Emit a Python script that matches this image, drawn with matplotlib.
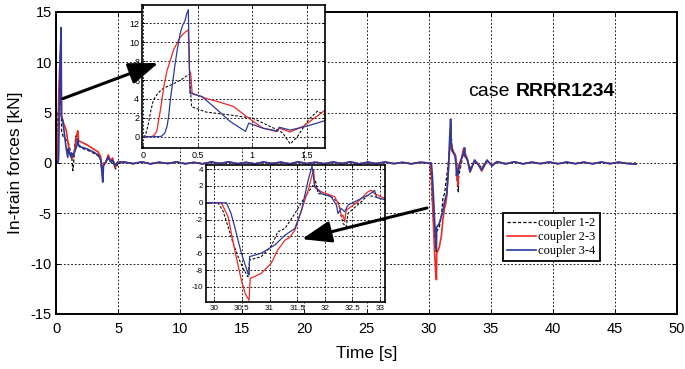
import matplotlib
matplotlib.use("Agg")
import matplotlib.pyplot as plt
from matplotlib.patches import ConnectionPatch

plt.rcParams['font.family'] = ['Liberation Sans', 'DejaVu Sans']
plt.rcParams['axes.unicode_minus'] = False

# ---------------- data ----------------
labels = ["coupler 1-2", "coupler 2-3", "coupler 3-4"]

# shared time stamps of the quiet stretches
flat_t_a = [5.5, 6.2, 6.9, 7.6, 8.3, 9.0, 9.7, 10.4, 11.1, 11.8, 12.5, 13.2, 13.9, 14.6,
            15.3, 16.0, 16.7, 17.4, 18.1, 18.8, 19.5, 20.2, 20.9, 21.6, 22.3, 23.0, 23.7,
            24.4, 25.1, 25.8, 26.5, 27.2, 27.9, 28.6, 29.3, 30.0]
flat_t_b = [35.5, 36.2, 36.9, 37.6, 38.3, 39.0, 39.7, 40.4, 41.1, 41.8, 42.5, 43.2, 43.9,
            44.6, 45.3, 46.0, 46.7]

# coupler 1-2 (black dashed)
t12_start = [0.0, 0.018, 0.03, 0.049, 0.07, 0.095, 0.13, 0.17, 0.22, 0.278, 0.37, 0.425,
             0.445, 0.58, 0.8, 1.01, 1.2, 1.28, 1.35, 1.41, 1.52, 1.6, 1.67, 1.75, 2.0,
             2.5, 3.0, 3.4, 3.6, 3.7, 3.76, 3.82, 4.0, 4.2, 4.45, 4.6, 4.8, 5.0]
f12_start = [0.0, 0.1, 0.5, 1.4, 2.7, 3.9, 4.5, 5.0, 5.3, 5.58, 6.18, 6.64,
             3.17, 2.6, 2.3, 1.94, 0.9, 0.41, -0.76, -0.1, 1.82, 2.7, 2.3, 1.8, 1.5,
             1.3, 1.0, 0.7, 0.3, -0.8, -1.5, -0.2, 0.1, 0.5, 0.0, 0.3, -0.6, 0.0]
f12_flat_a = [0.05, -0.03, 0.06, -0.05, 0.04, -0.02, 0.06, -0.05, 0.03, -0.04, 0.05, -0.03,
              0.06, -0.04, 0.03, -0.05, 0.05, -0.03, 0.04, -0.05, 0.06, -0.03, 0.04, -0.04,
              0.05, -0.03, 0.06, -0.05, 0.04, -0.03, 0.05, -0.04, 0.03, -0.05, 0.04, 0.0]
t12_event = [30.07, 30.16, 30.25, 30.34, 30.43, 30.52, 30.61, 30.64, 30.85, 31.03, 31.15,
             31.28, 31.46, 31.64, 31.79, 31.83, 31.88, 32.06, 32.24, 32.33, 32.39, 32.42,
             32.66, 32.78, 32.9, 33.12, 33.33, 33.7, 34.0, 34.27, 34.7, 35.1]
f12_event = [0.0, -1.0, -2.86, -4.8, -6.4, -7.8, -8.8, -6.8, -6.4, -5.2, -3.45,
             -3.05, -1.27, 0.72, 2.1, 2.7, 1.1, 0.9, 0.12, -2.46, -2.86, -1.27,
             0.12, 0.9, 0.72, 0.3, -0.6, 0.2, -0.1, -0.5, 0.2, -0.2]
f12_flat_b = [0.1, -0.05, 0.08, -0.06, 0.05, -0.04, 0.07, -0.05, 0.06, -0.04, 0.05, -0.05,
              0.06, -0.04, 0.05, -0.03, 0.0]

# coupler 2-3 (red)
t23_start = [0.0, 0.079, 0.1, 0.125, 0.16, 0.19, 0.22, 0.25, 0.28, 0.31, 0.34, 0.37,
             0.39, 0.415, 0.425, 0.437, 0.45, 0.58, 0.69, 0.83, 0.95, 1.1, 1.23, 1.25,
             1.35, 1.47, 1.67, 1.75, 1.82, 2.0, 2.5, 3.0, 3.4, 3.6, 3.7, 3.76, 3.82, 4.0,
             4.2, 4.4, 4.55, 4.75, 4.95]
f23_start = [0.0, 0.0, 0.15, 0.55, 2.9, 5.3, 7.0, 8.1, 9.2, 9.87, 10.5, 10.9,
             11.1, 11.3, 7.06, 6.7, 4.6, 4.05, 3.7, 3.2, 2.12, 0.9, 0.54, 0.9,
             0.5, 1.1, 2.8, 3.2, 2.2, 2.1, 1.8, 1.4, 1.1, 0.6, -0.8, -1.2, 0.0, 0.0,
             0.8, 0.2, 0.5, -0.5, 0.1]
f23_flat_a = [0.08, -0.06, 0.1, -0.08, 0.06, -0.05, 0.1, -0.07, 0.05, -0.08, 0.09, -0.05,
              0.1, -0.06, 0.05, -0.08, 0.09, -0.05, 0.07, -0.08, 0.1, -0.05, 0.07, -0.07,
              0.09, -0.05, 0.1, -0.08, 0.07, -0.05, 0.09, -0.06, 0.05, -0.08, 0.06, 0.0]
t23_event = [30.13, 30.25, 30.37, 30.49, 30.56, 30.63, 30.65, 30.85, 31.03, 31.15, 31.28,
             31.37, 31.46, 31.58, 31.7, 31.77, 31.8, 31.82, 31.94, 32.18, 32.27, 32.3,
             32.33, 32.36, 32.39, 32.6, 32.78, 32.84, 32.9, 33.12, 33.33, 33.7, 34.0,
             34.27, 34.7, 35.1]
f23_event = [0.0, -1.67, -5.6, -9.2, -10.8, -11.6, -9.0, -8.4, -7.2, -5.6, -4.45,
             -4.1, -3.25, -0.87, 1.5, 3.3, 3.9, 1.9, 1.3, 0.72, -0.47, -1.67,
             -1.47, -2.26, -0.87, 0.12, 1.3, 1.5, 1.1, 0.4, -0.9, 0.2, -0.1,
             -0.8, 0.2, -0.2]
f23_flat_b = [0.12, -0.08, 0.1, -0.08, 0.07, -0.06, 0.09, -0.07, 0.08, -0.06, 0.07, -0.07,
              0.08, -0.06, 0.07, -0.05, -0.1]

# coupler 3-4 (blue)
t34_start = [0.0, 0.14, 0.17, 0.2, 0.22, 0.235, 0.25, 0.27, 0.29, 0.315, 0.34, 0.36,
             0.385, 0.40, 0.415, 0.43, 0.54, 0.68, 0.8, 0.94, 0.97, 1.1, 1.23, 1.25,
             1.35, 1.5, 1.67, 1.75, 1.82, 2.0, 2.5, 3.0, 3.4, 3.6, 3.7, 3.76, 3.82, 4.0,
             4.2, 4.4, 4.55, 4.75, 4.95]
f34_start = [0.0, 0.0, 0.05, 0.4, 1.1, 2.2, 3.9, 5.6, 7.4, 9.3, 10.9, 11.7,
             12.3, 13.0, 13.45, 4.6, 4.25, 2.85, 1.6, 0.56, 1.44, 0.9, 0.6, 1.0,
             0.7, 1.1, 1.7, 2.4, 1.8, 1.6, 1.4, 1.1, 0.8, 0.3, -1.0, -1.9, -0.3, 0.1,
             0.6, 0.1, 0.3, -0.3, 0.05]
f34_flat_a = [0.1, -0.08, 0.12, -0.1, 0.08, -0.06, 0.12, -0.09, 0.07, -0.1, 0.11, -0.06,
              0.12, -0.08, 0.07, -0.1, 0.1, -0.06, 0.09, -0.1, 0.12, -0.07, 0.08, -0.09,
              0.1, -0.06, 0.12, -0.1, 0.09, -0.07, 0.11, -0.08, 0.07, -0.1, 0.08, 0.0]
t34_event = [30.22, 30.3, 30.37, 30.49, 30.61, 30.63, 30.64, 30.85, 31.1, 31.28, 31.46,
             31.58, 31.7, 31.77, 31.82, 31.94, 32.12, 32.21, 32.24, 32.3, 32.36, 32.42,
             32.6, 32.78, 32.87, 32.9, 32.94, 33.12, 33.33, 33.7, 34.0, 34.27, 34.7, 35.1]
f34_event = [0.0, -1.2, -2.86, -6.0, -8.4, -8.6, -6.4, -6.0, -5.0, -3.85, -3.05,
             -0.87, 2.7, 4.37, 1.9, 1.1, 0.72, -0.27, -1.27, -0.67, -1.07, -0.27,
             0.32, 0.9, 1.3, 1.5, 0.64, 0.3, -0.86, 0.3, -0.2, -0.7, 0.3, -0.3]
f34_flat_b = [0.14, -0.1, 0.12, -0.1, 0.09, -0.08, 0.11, -0.09, 0.1, -0.08, 0.09, -0.09,
              0.1, -0.08, 0.09, -0.06, -0.12]

t12 = t12_start + flat_t_a + t12_event + flat_t_b
f12 = f12_start + f12_flat_a + f12_event + f12_flat_b
t23 = t23_start + flat_t_a + t23_event + flat_t_b
f23 = f23_start + f23_flat_a + f23_event + f23_flat_b
t34 = t34_start + flat_t_a + t34_event + flat_t_b
f34 = f34_start + f34_flat_a + f34_event + f34_flat_b

series = [(t12, f12), (t23, f23), (t34, f34)]

main_xticks = [0, 5, 10, 15, 20, 25, 30, 35, 40, 45, 50]
main_yticks = [-15, -10, -5, 0, 5, 10, 15]
ins1_xticks = [0, 0.5, 1, 1.5]
ins1_yticks = [0, 2, 4, 6, 8, 10, 12]
ins2_xticks = [30, 30.5, 31, 31.5, 32, 32.5, 33]
ins2_yticks = [-10, -8, -6, -4, -2, 0, 2, 4]

# ---------------- style ----------------
colors = ['black', '#ec2a24', '#2b3b9d']
styles = [(0, (2.6, 1.6)), '-', '-']
grid_ls = (0, (2.2, 2.2))

fig = plt.figure(figsize=(6.85, 3.69), dpi=100)
ax = fig.add_axes([0.0818, 0.1491, 0.9066, 0.8184])


def style_axes(a, fs, lw_spine):
    a.grid(True, linestyle=grid_ls, color='black', linewidth=0.6)
    a.tick_params(direction='in', top=True, right=True, labelsize=fs,
                  length=3, width=0.7, pad=2)
    for s in a.spines.values():
        s.set_linewidth(lw_spine)
        s.set_color('black')


lines = []
for (t, f), c, ls, lab in zip(series, colors, styles, labels):
    ln, = ax.plot(t, f, color=c, linestyle=ls, linewidth=1.2 if ls == '-' else 0.9,
                  label=lab)
    lines.append(ln)
ax.set_xlim(0, 50)
ax.set_ylim(-15, 15)
ax.set_xticks(main_xticks)
ax.set_yticks(main_yticks)
style_axes(ax, 10.5, 1.4)
ax.tick_params(axis='x', pad=6)
ax.tick_params(axis='y', pad=3)
ax.set_xlabel("Time [s]", fontsize=12.5)
ax.set_ylabel("In-train forces [kN]", fontsize=12.5)
ax.xaxis.set_label_coords(0.5, -0.105)
ax.yaxis.set_label_coords(-0.053, 0.5)

leg = ax.legend(handles=lines, loc='upper left', bbox_to_anchor=(0.734, 0.423),
                bbox_transform=fig.transFigure, fancybox=False, framealpha=1,
                edgecolor='black', prop={'family': 'Liberation Serif', 'size': 9},
                handlelength=2.3, handletextpad=0.2, labelspacing=0.15,
                borderpad=0.35, borderaxespad=0)
leg.get_frame().set_linewidth(1.3)
leg.set_zorder(6)

# inset 1 : start of the run
ins1 = fig.add_axes([0.2073, 0.5989, 0.2672, 0.3875], zorder=3)
for (t, f), c, ls in zip(series, colors, styles):
    ins1.plot(t, f, color=c, linestyle=ls, linewidth=0.9 if ls == '-' else 0.75)
ins1.set_xlim(-0.01, 1.67)
ins1.set_ylim(-1.2, 13.94)
ins1.set_xticks(ins1_xticks)
ins1.set_xticklabels(['0', '0.5', '1', '1.5'])
ins1.set_yticks(ins1_yticks)
style_axes(ins1, 6.5, 1.2)
ins1.tick_params(length=2)

# inset 2 : braking event
ins2 = fig.add_axes([0.3007, 0.1816, 0.2613, 0.3713], zorder=3)
for (t, f), c, ls in zip(series, colors, styles):
    ins2.plot(t, f, color=c, linestyle=ls, linewidth=0.9 if ls == '-' else 0.75)
ins2.set_xlim(29.85, 33.09)
ins2.set_ylim(-11.8, 4.5)
ins2.set_xticks(ins2_xticks)
ins2.set_xticklabels(['30', '30.5', '31', '31.5', '32', '32.5', '33'])
ins2.set_yticks(ins2_yticks)
style_axes(ins2, 5.8, 1.2)
ins2.tick_params(length=2)

# arrows linking main plot to the insets
arrow_kw = dict(arrowstyle='-|>,head_length=1.5,head_width=0.55', mutation_scale=12,
                linewidth=2.2, color='black', zorder=10)
con1 = ConnectionPatch(xyA=(0.56, 6.4), coordsA=ax.transData,
                       xyB=(0.14, 7.8), coordsB=ins1.transData, **arrow_kw)
fig.add_artist(con1)
con2 = ConnectionPatch(xyA=(29.87, -4.47), coordsA=ax.transData,
                       xyB=(31.585, -4.32), coordsB=ins2.transData, **arrow_kw)
fig.add_artist(con2)

# case label
fig.text(468 / 685, 1 - 91 / 369, "case", fontsize=14, va='center', ha='left')
fig.text(516 / 685, 1 - 91 / 369, "RRRR1234", fontsize=14, fontweight='bold',
         va='center', ha='left')

fig.savefig("out.png", dpi=100)
